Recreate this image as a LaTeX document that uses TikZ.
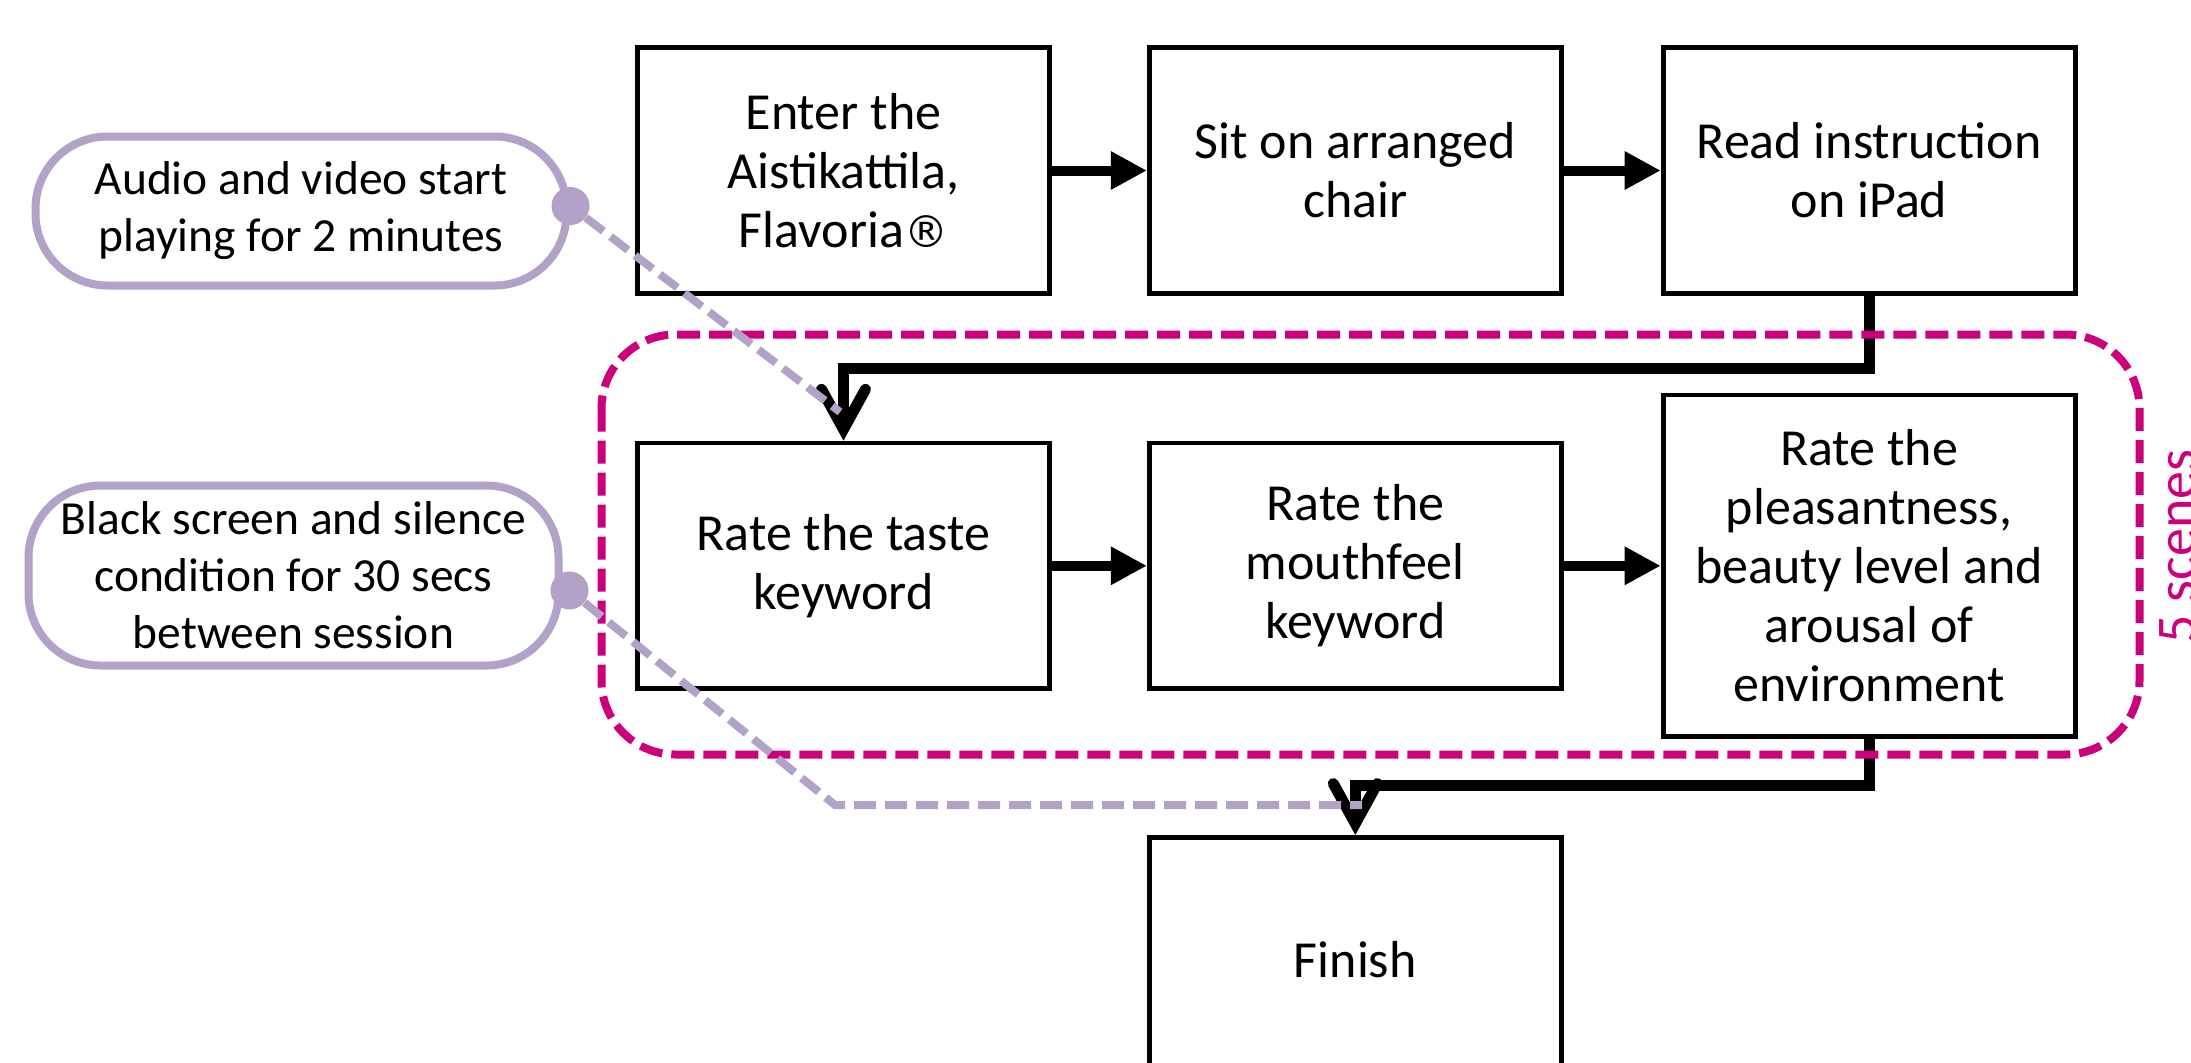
\documentclass[tikz,border=0pt]{standalone}
\usepackage{fontspec}
\setmainfont{Carlito}
\newfontfamily\markfont{DejaVu Sans}
\usetikzlibrary{arrows.meta,positioning}
\definecolor{scenepink}{RGB}{204,0,122}
\definecolor{cuelilac}{RGB}{179,162,199}

\begin{document}
\begin{tikzpicture}[x=1pt, y=1pt,
    stepbox/.style={draw, line width=2.4pt, fill=white, rectangle, minimum width=206pt, minimum height=122.75pt, align=center, inner sep=2pt, font=\fontsize{26pt}{29.5pt}\selectfont},
    cuebox/.style={draw=cuelilac, line width=4pt, fill=white, rounded corners=36pt, align=center, inner sep=0pt, font=\fontsize{23.75pt}{28.5pt}\selectfont},
    pindot/.style={circle, fill=cuelilac, inner sep=0pt, minimum size=19pt},
    flowarrow/.style={line width=5pt, -{Triangle[length=18pt, width=18pt]}},
    turnline/.style={line width=5.5pt, -{Straight Barb[length=20pt, width=22pt, line cap=round]}},
    cueline/.style={cuelilac, line width=4pt, dash pattern=on 11pt off 4.5pt},
    sceneframe/.style={scenepink, line width=4pt, dash pattern=on 11.5pt off 4.5pt, rounded corners=37pt}]

    \fill [white] (0,0) rectangle (1095.5,-531);
    \useasboundingbox (0,0) rectangle (1095.5,-531);

    \node (enter) [stepbox] at (421.75,-85.25) {Enter the\\Aistikattila,\\Flavoria{\markfont\fontsize{22pt}{26pt}\selectfont®}};
    \node (sit) [stepbox, right=47.5pt of enter] {Sit on arranged\\chair};
    \node (read) [stepbox, right=48.5pt of sit] {Read instruction\\on iPad};

    \node (taste) [stepbox, below=72.5pt of enter] {Rate the taste\\keyword};
    \node (mouth) [stepbox, right=47.5pt of taste] {Rate the\\mouthfeel\\keyword};
    \node (rate) [stepbox, minimum height=170.75pt, right=48.5pt of mouth] {Rate the\\pleasantness,\\beauty level and\\arousal of\\environment};

    \node (finish) [stepbox, below=72pt of mouth] {Finish};

    \node (avcue) [cuebox, minimum width=265.5pt, minimum height=74.5pt] at (150.5,-105.5) {Audio and video start\\playing for 2 minutes};
    \node (blackcue) [cuebox, minimum width=265pt, minimum height=90pt] at (146.75,-287.75) {Black screen and silence\\condition for 30 secs\\between session};

    \draw [flowarrow] (enter) -- (sit);
    \draw [flowarrow] (sit) -- (read);
    \draw [flowarrow] (taste) -- (mouth);
    \draw [flowarrow] (mouth) -- (rate);
    \draw [turnline] (read.south) -- ++(0,-36.25) -| (taste.north);
    \draw [turnline] (rate.south) -- ++(0,-23.5) -| (finish.north);

    \draw [sceneframe] (300.75,-167.25) rectangle (1069.75,-377.25);
    \node (scenecount) [scenepink, rotate=90, anchor=base, font=\fontsize{28pt}{32pt}\selectfont] at (1097.5,-273.25) {5 scenes};

    \coordinate (tastecue) at (420,-206);
    \coordinate (lilacbend) at (417.5,-402.5);
    \coordinate (finishcue) at (681,-402.5);
    \node (avdot) [pindot] at ([yshift=2.5pt]avcue.east) {};
    \node (blackdot) [pindot] at ([xshift=3.5pt, yshift=-7.5pt]blackcue.east) {};
    \draw [cueline] (avdot) -- (tastecue);
    \draw [cueline] (blackdot) -- (lilacbend) -- (finishcue);

\end{tikzpicture}
\end{document}
